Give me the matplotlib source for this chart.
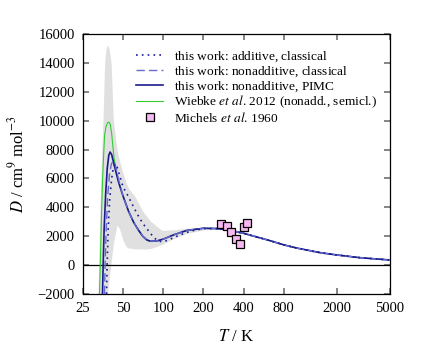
import numpy as np
import matplotlib
matplotlib.use("Agg")
import matplotlib.pyplot as plt

plt.rcParams["font.family"] = ["Liberation Serif", "DejaVu Serif"]
plt.rcParams["mathtext.fontset"] = "stix"

# Gray uncertainty band (upper / lower edges)
band_T = [32.4, 33.5, 34.5, 35.3, 36.3, 37.2, 38.0, 39.2, 40.6, 42.2, 44.9, 47.0, 50.0, 52.7, 55.0,
          61.4, 70.0, 74.5, 80.0, 90.0, 97.0, 100.0, 120.0, 150.0, 200.0, 250.0, 300.0, 400.0,
          600.0, 1000.0, 2000.0, 5000.0]
band_hi = [-2000, 4000, 7800, 10000, 14000, 15000, 15260, 15000, 14000, 10000, 8000, 7200, 6300, 5700, 5300,
           4740, 3750, 3400, 3050, 2650, 2430, 2400, 2450, 2550, 2620, 2580, 2490, 2240,
           1780, 1200, 710, 360]
band_lo = [-2000, -2000, -2000, -2000, -2000, -2000, -2000, -1000, 200, 1500, 2777, 2500, 1700, 1275, 1180,
           1130, 1115, 1115, 1150, 1300, 1420, 1480, 1850, 2200, 2440, 2480, 2410, 2170,
           1720, 1160, 690, 348]

# this work: additive, classical (dotted)
add_T = [37.5, 37.9, 38.6, 39.6, 41.0, 42.3, 43.6, 45.0, 47.0, 50.0, 55.0, 60.0, 65.0, 70.0, 77.0,
         85.0, 92.0, 100.0, 110.0, 130.0, 160.0, 200.0, 250.0, 300.0, 400.0, 500.0, 600.0, 800.0,
         1000.0, 1500.0, 2000.0, 3000.0, 5000.0]
add_D = [-2000, 0, 2500, 4500, 6000, 6800, 7000, 6800, 6200, 5400, 4700, 4000, 3400, 2900, 2400,
         1900, 1650, 1620, 1750, 2050, 2350, 2530, 2530, 2450, 2200, 1950, 1750, 1400,
         1180, 860, 700, 510, 354]

# this work: nonadditive, classical (dashed)
nac_T = [36.2, 36.6, 37.3, 38.3, 39.5, 40.8, 42.2, 43.5, 45.0, 47.0, 50.0, 55.0, 60.0, 65.0, 70.0,
         75.0, 80.0, 90.0, 100.0, 120.0, 150.0, 200.0, 250.0, 300.0, 400.0, 500.0, 600.0, 800.0,
         1000.0, 1500.0, 2000.0, 3000.0, 5000.0]
nac_D = [-2000, 0, 2500, 4800, 6300, 7000, 7230, 7000, 6400, 5650, 4750, 3700, 2950, 2430, 2000,
         1750, 1650, 1680, 1800, 2100, 2400, 2550, 2530, 2450, 2200, 1950, 1750, 1400,
         1180, 860, 700, 510, 354]

# this work: nonadditive, PIMC (solid)
pimc_T = [35.0, 35.4, 36.0, 37.0, 38.0, 39.0, 39.9, 41.0, 42.0, 44.0, 46.0, 48.0, 50.0, 55.0, 60.0,
          65.0, 70.0, 75.0, 80.0, 90.0, 100.0, 120.0, 150.0, 200.0, 250.0, 300.0, 400.0, 500.0,
          600.0, 800.0, 1000.0, 1500.0, 2000.0, 3000.0, 5000.0]
pimc_D = [-2000, 0, 2500, 5000, 6700, 7600, 7830, 7650, 7250, 6500, 5800, 5250, 4750, 3700, 2950,
          2430, 2000, 1750, 1650, 1680, 1800, 2100, 2400, 2550, 2530, 2450, 2200, 1950,
          1750, 1400, 1180, 860, 700, 510, 354]

# Wiebke et al. 2012 (green)
wie_T = [33.2, 33.7, 34.4, 35.0, 35.6, 36.3, 37.2, 38.2, 39.1, 40.0, 41.0, 42.6, 44.0, 46.0, 48.0,
         50.0, 55.0, 60.0, 65.0, 70.0, 75.0, 80.0, 90.0, 100.0, 120.0, 150.0, 200.0, 250.0, 300.0,
         400.0, 500.0, 600.0, 800.0, 1000.0, 1500.0, 2000.0, 3000.0, 5000.0]
wie_D = [-2000, 0, 3500, 5800, 7400, 9000, 9600, 9850, 9900, 9750, 9100, 7500, 6600, 5850, 5280,
         4780, 3720, 2960, 2440, 2000, 1750, 1650, 1680, 1800, 2100, 2400, 2560, 2530, 2450,
         2200, 1950, 1750, 1400, 1180, 860, 700, 510, 354]

# Michels et al. 1960
mich_T = [271, 300, 323, 352, 373, 400, 424]
mich_D = [2846, 2729, 2271, 1829, 1440, 2617, 2894]

xticks = [25, 50, 100, 200, 400, 800, 2000, 5000]
yticks = list(range(-2000, 16001, 2000))

fig = plt.figure(figsize=(4.25, 3.56), dpi=100)
ax = fig.add_axes([0.1953, 0.1742, 0.7224, 0.7303])

ax.fill_between(band_T, band_lo, band_hi, color="#e0e0e0", lw=0, zorder=1)
ax.axhline(0, color="black", lw=0.9, zorder=2)
ax.plot(wie_T, wie_D, color="#33cc33", lw=0.8, zorder=3,
        label="Wiebke $\\it{et\\ al}$. 2012 (nonadd., semicl.)")
ax.plot(pimc_T, pimc_D, color="#1a1a8a", lw=1.2, zorder=4,
        label="this work: nonadditive, PIMC$\\,$")
ax.plot(nac_T, nac_D, color="#6a6ad0", lw=1.0, ls=(0, (6, 3)), zorder=5,
        label="this work: nonadditive, classical$\\,$")
ax.plot(add_T, add_D, color="#1a1a99", lw=1.2, ls=(0, (1, 2.5)), zorder=6,
        label="this work: additive, classical$\\,$")
ax.plot(mich_T, mich_D, ls="none", marker="s", ms=6, mfc="#f5b8f0", mec="black", mew=0.9,
        zorder=7, label="Michels $\\it{et\\ al}$. 1960")

ax.set_xscale("log")
ax.set_xlim(25, 5000)
ax.set_ylim(-2000, 16000)
ax.set_xticks(xticks)
ax.set_xticklabels([str(t) for t in xticks])
ax.xaxis.set_minor_locator(matplotlib.ticker.NullLocator())
ax.set_yticks(yticks)
ax.set_yticklabels([("\u2212" + str(-v)) if v < 0 else str(v) for v in yticks])
ax.tick_params(direction="in", length=4, width=1.2, color="#707070", labelsize=10.5,
               top=True, right=True, pad=6)
for s in ax.spines.values():
    s.set_linewidth(0.9)

ax.set_xlabel("$T$ / K", fontsize=12, labelpad=10)
ax.set_ylabel("$D$ / cm$^9$ mol$^{-3}$", fontsize=12, labelpad=7)

h, l = ax.get_legend_handles_labels()
order = [3, 2, 1, 0, 4]
ax.legend([h[i] for i in order], [l[i] for i in order], loc="upper left",
          bbox_to_anchor=(0.165, 0.95), frameon=False, fontsize=9.6,
          handlelength=2.0, handletextpad=0.8, labelspacing=0.02, borderaxespad=0,
          borderpad=0.2)

fig.savefig("out.png", dpi=100)
